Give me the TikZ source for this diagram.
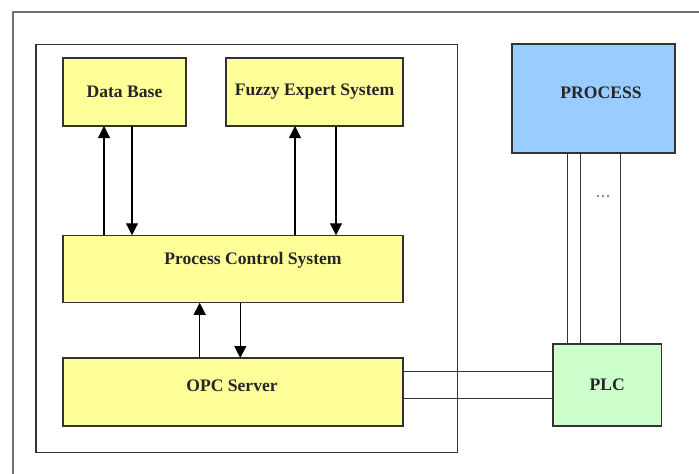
\documentclass[tikz,border=0pt]{standalone}
\usepackage{fontspec}
\setmainfont{Liberation Serif}
\usetikzlibrary{arrows.meta}
\definecolor{boxyellow}{HTML}{FFFF99}
\definecolor{boxblue}{HTML}{99CCFF}
\definecolor{boxgreen}{HTML}{CCFFCC}
\definecolor{edge}{HTML}{333333}
\definecolor{framegray}{HTML}{707070}
\tikzset{
  box/.style={draw=edge, line width=1.1pt, inner sep=0pt, outer sep=0pt, anchor=center,
    font=\fontsize{17.6}{20}\selectfont\bfseries, text=black!85},
  lbl/.style={inner sep=0pt, font=\fontsize{17.6}{20}\selectfont\bfseries, text=black!85},
  arr/.style={line width=1.1pt, -{Triangle[length=12pt,width=12pt]}},
  wire/.style={draw=edge, line width=1pt},
}
\begin{document}
\begin{tikzpicture}[x=1pt,y=-1pt]
\useasboundingbox (0,0) rectangle (699,474);
% outer frame
\draw[framegray, line width=1.5pt] (13,474) -- (13,12) -- (699,12);
% inner frame
\node[draw=edge, line width=1.1pt, inner sep=0pt, minimum width=421.5pt, minimum height=408.5pt] (frame) at (246.75,248.35) {};
% boxes
\node[box, fill=boxyellow, minimum width=123pt, minimum height=68pt] (db) at (124.5,92) {Data Base};
\node[box, fill=boxyellow, minimum width=177pt, minimum height=68pt] (fes) at (314.5,92) {Fuzzy Expert System};
\node[box, fill=boxyellow, minimum width=340pt, minimum height=67.5pt] (pcs) at (233,269) {};
\node[lbl] (pcst) at (253,260) {Process Control System};
\node[box, fill=boxyellow, minimum width=340pt, minimum height=68pt] (opc) at (233,392) {};
\node[lbl] (opct) at (232,386) {OPC Server};
\node[box, fill=boxblue, minimum width=163pt, minimum height=109pt] (proc) at (593.5,98.5) {};
\node[lbl] (proct) at (601,93) {PROCESS};
\node[box, fill=boxgreen, minimum width=108.7pt, minimum height=82pt] (plc) at (607.3,385) {PLC};
\node[inner sep=0pt, font=\fontsize{20}{22}\selectfont, text=black!45] (dots) at (603,197) {...};
% x positions
\coordinate (xa) at (104,0);
\coordinate (xb) at (132,0);
\coordinate (xc) at (295,0);
\coordinate (xd) at (336,0);
\coordinate (xe) at (199.7,0);
\coordinate (xf) at (240.3,0);
\coordinate (xg) at (567,0);
\coordinate (xh) at (580,0);
\coordinate (xi) at (620.7,0);
\coordinate (ya) at (0,371.7);
\coordinate (yb) at (0,398.7);
% arrows
\draw[arr] (pcs.north -| xa) -- (db.south -| xa);
\draw[arr] (db.south -| xb) -- (pcs.north -| xb);
\draw[arr] (pcs.north -| xc) -- (fes.south -| xc);
\draw[arr] (fes.south -| xd) -- (pcs.north -| xd);
\draw[arr] (opc.north -| xe) -- (pcs.south -| xe);
\draw[arr] (pcs.south -| xf) -- (opc.north -| xf);
% wires
\draw[wire] (proc.south -| xg) -- (plc.north -| xg);
\draw[wire] (proc.south -| xh) -- (plc.north -| xh);
\draw[wire] (proc.south -| xi) -- (plc.north -| xi);
\draw[wire] (opc.east |- ya) -- (plc.west |- ya);
\draw[wire] (opc.east |- yb) -- (plc.west |- yb);
\end{tikzpicture}
\end{document}
